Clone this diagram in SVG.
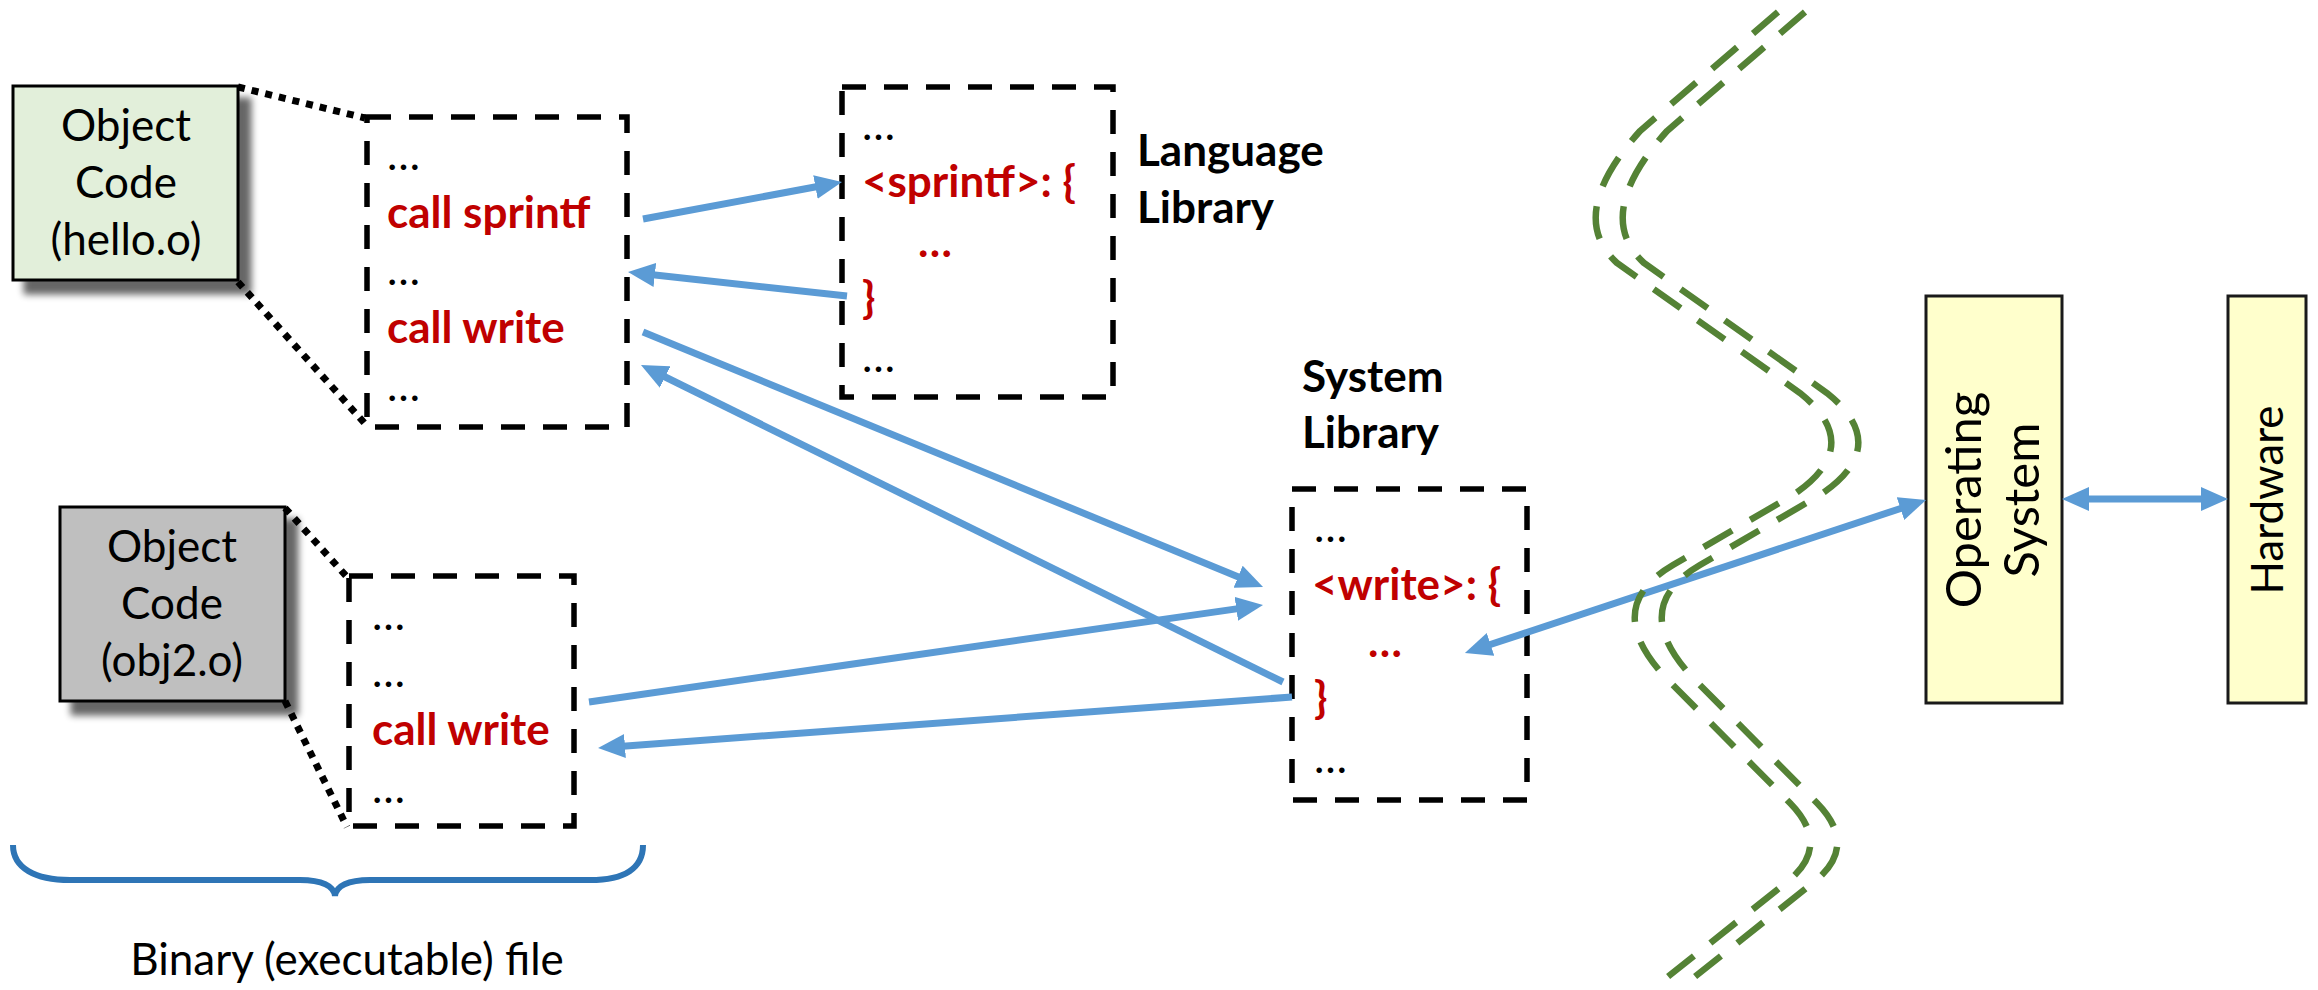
<svg xmlns="http://www.w3.org/2000/svg" width="2318" height="990" viewBox="0 0 2318 990">
<style>
.t{font-family:Lato,"Open Sans",sans-serif;font-size:44px;fill:#000}
.b{font-weight:bold}
.r{fill:#C00000;font-weight:bold}
.m{text-anchor:middle}
.big{font-size:49px}
.dash{fill:none;stroke:#000;stroke-width:5.5;stroke-dasharray:24 18}
.dot{fill:none;stroke:#000;stroke-width:7;stroke-dasharray:7 7}
.arr{fill:none;stroke:#5B9BD5;stroke-width:7}
.wave{fill:none;stroke:#548235;stroke-width:6.5;stroke-dasharray:33 21}
.obj{stroke:#000;stroke-width:3}
.yel{fill:#FFFFCC;stroke:#1a1a1a;stroke-width:3}
</style>
<defs>
<filter id="sh" x="-20%" y="-20%" width="150%" height="150%">
<feGaussianBlur in="SourceAlpha" stdDeviation="3.5"/>
<feOffset dx="12" dy="13" result="o"/>
<feComponentTransfer><feFuncA type="linear" slope="0.6"/></feComponentTransfer>
<feMerge><feMergeNode/><feMergeNode in="SourceGraphic"/></feMerge>
</filter>
<marker id="ah" markerUnits="userSpaceOnUse" markerWidth="27" markerHeight="24" refX="9" refY="12" orient="auto-start-reverse">
<path d="M0,0 L27,12 L0,24 z" fill="#5B9BD5"/>
</marker>
</defs>
<rect width="2318" height="990" fill="#fff"/>

<g id="obj-hello">
<rect class="obj" x="13" y="86" width="225" height="194" fill="#E2EFDA" filter="url(#sh)"/>
<text class="t m" x="126" y="141">Object</text>
<text class="t m" x="126" y="198">Code</text>
<text class="t m" x="126" y="255">(hello.o)</text>
</g>

<g id="obj-obj2">
<rect class="obj" x="60" y="507" width="225" height="194" fill="#BFBFBF" filter="url(#sh)"/>
<text class="t m" x="172" y="562">Object</text>
<text class="t m" x="172" y="619">Code</text>
<text class="t m" x="172" y="676">(obj2.o)</text>
</g>

<g id="zoom-lines">
<line class="dot" x1="238" y1="87" x2="365" y2="118"/>
<line class="dot" x1="238" y1="282" x2="368" y2="427"/>
<line class="dot" x1="285" y1="508" x2="347" y2="577"/>
<line class="dot" x1="285" y1="701" x2="347" y2="827"/>
</g>

<g id="code-hello">
<rect class="dash" x="367" y="117" width="260" height="310"/>
<text class="t" x="387" y="170">…</text>
<text class="t r" x="387" y="228">call sprintf</text>
<text class="t" x="387" y="285">…</text>
<text class="t r" x="387" y="343">call write</text>
<text class="t" x="387" y="401">…</text>
</g>

<g id="code-obj2">
<rect class="dash" x="349" y="576" width="225" height="250"/>
<text class="t" x="372" y="630">…</text>
<text class="t" x="372" y="687">…</text>
<text class="t r" x="372" y="745">call write</text>
<text class="t" x="372" y="803">…</text>
</g>

<g id="language-library">
<rect class="dash" x="842" y="87" width="271" height="310"/>
<text class="t" x="862" y="140">…</text>
<text class="t r" x="862" y="197">&lt;sprintf&gt;: {</text>
<text class="t r" x="918" y="257">…</text>
<text class="t r" x="862" y="313">}</text>
<text class="t" x="862" y="372">…</text>
<text class="t b" x="1137" y="166">Language</text>
<text class="t b" x="1137" y="223">Library</text>
</g>

<g id="system-library">
<rect class="dash" x="1292" y="489" width="235" height="311"/>
<text class="t" x="1314" y="542">…</text>
<text class="t r" x="1312" y="600">&lt;write&gt;: {</text>
<text class="t r" x="1368" y="657">…</text>
<text class="t r" x="1314" y="713">}</text>
<text class="t" x="1314" y="773">…</text>
<text class="t b" x="1302" y="392">System</text>
<text class="t b" x="1302" y="448">Library</text>
</g>

<g id="operating-system">
<rect class="yel" x="1926" y="296" width="136" height="407"/>
<text class="t m big" transform="translate(1981,500) rotate(-90)">Operating</text>
<text class="t m big" transform="translate(2039,500) rotate(-90)">System</text>
</g>

<g id="hardware">
<rect class="yel" x="2228" y="296" width="78" height="407"/>
<text class="t m" transform="translate(2283,500) rotate(-90)">Hardware</text>
</g>

<g id="connectors">
<line class="arr" x1="643" y1="219" x2="824.3" y2="185.3" marker-end="url(#ah)"/>
<line class="arr" x1="847" y1="296" x2="645.9" y2="274" marker-end="url(#ah)"/>
<line class="arr" x1="643" y1="332" x2="1246.4" y2="580.2" marker-end="url(#ah)"/>
<line class="arr" x1="1283" y1="682" x2="657.1" y2="373" marker-end="url(#ah)"/>
<line class="arr" x1="589" y1="702" x2="1245.2" y2="607.6" marker-end="url(#ah)"/>
<line class="arr" x1="1292" y1="697" x2="616" y2="746.7" marker-end="url(#ah)"/>
<line class="arr" x1="1482" y1="647.3" x2="1909" y2="505.7" marker-start="url(#ah)" marker-end="url(#ah)"/>
<line class="arr" x1="2080" y1="499" x2="2210" y2="499" marker-start="url(#ah)" marker-end="url(#ah)"/>
</g>

<g id="boundary">
<path class="wave" d="M1778,12 L1640,131 Q1565,215 1617,263 L1800,393 Q1866,446 1793,495 L1673,565 Q1598,609 1670,682 L1790,803 Q1832,846 1787,882 L1655,987"/>
<path class="wave" d="M1805,12 L1667,131 Q1592,215 1644,263 L1827,393 Q1893,446 1820,495 L1700,565 Q1625,609 1697,682 L1817,803 Q1859,846 1814,882 L1682,987"/>
</g>

<g id="binary-brace">
<path d="M13,845 C13,868 35,880 70,880 L300,880 C322,880 334,886 335,896 C336,886 348,880 370,880 L590,880 C625,880 643,868 643,845" fill="none" stroke="#2E75B6" stroke-width="6"/>
<text class="t m" x="347" y="975">Binary (executable) file</text>
</g>
</svg>
